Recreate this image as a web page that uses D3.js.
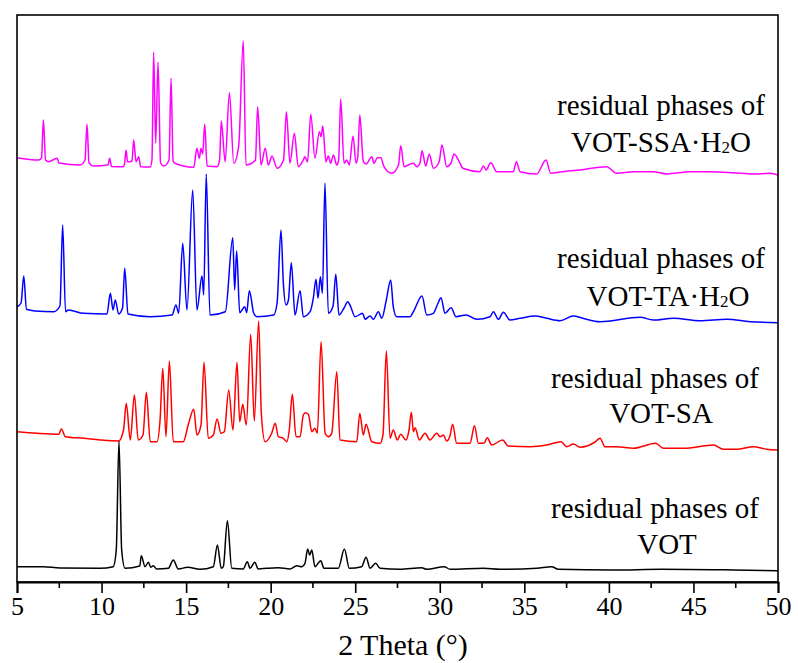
<!DOCTYPE html>
<html>
<head>
<meta charset="utf-8">
<script src="https://cdn.jsdelivr.net/npm/d3@7"></script>
<style>
  body { margin: 0; background: #fff; }
</style>
</head>
<body>
<div id="chart"></div>
<script>
// XRD patterns: [2 theta (deg), intensity (a.u., stacked)]
const vot = [[5.00,15.3],[6.56,15.3],[7.54,14],[9.91,13.7],[10.69,15.3],[10.87,32],[11.03,141],[11.19,32],[11.39,13.7],
  [12.26,16],[12.35,26.3],[12.57,15.3],[12.77,19.7],[12.91,14.7],[13.06,16.3],[13.26,13],[13.95,13.7],[14.24,22],[14.54,13],
  [15.09,14.7],[15.82,12.7],[16.61,15.3],[16.85,37],[17.08,13.7],[17.20,15.3],[17.44,61.3],[17.70,13.7],[18.38,13],
  [18.62,20.3],[18.78,13.7],[19.06,19.7],[19.27,13],[19.77,13.7],[20.45,14.3],[21.14,13],[21.54,16.3],[21.84,15.3],
  [22.03,18.7],[22.19,33],[22.31,27],[22.43,32],[22.62,15.3],[22.96,21.3],[23.15,13.7],[24.00,13.7],[24.36,33],[24.65,13.7],
  [25.38,15.3],[25.64,24.7],[25.88,13.7],[26.21,18.7],[26.47,13.7],[27.65,12.7],[28.93,14.3],[29.23,12.7],[30.27,15.3],
  [30.61,12.7],[32.58,13.7],[33.56,12.7],[35.73,13.7],[36.62,15.3],[37.01,12.7],[40.26,12],[43.12,12.7],[47.36,12],[50.00,11.3]];

const votSA = [[5.00,150.3],[6.18,148.7],[7.47,147.7],[7.62,153],[7.86,145.3],[8.94,143.7],[9.93,142],[11.01,141],[11.30,152],
  [11.46,178.7],[11.70,142],[11.94,187],[12.17,142],[12.45,147],[12.65,189.7],[12.88,140.3],[13.28,140.3],[13.46,162],
  [13.62,213.7],[13.81,145.3],[14.01,221],[14.24,140.3],[14.83,140.3],[15.15,158.7],[15.45,172.7],[15.64,147],[15.88,157],
  [16.06,219.7],[16.31,143.7],[16.61,147],[16.83,163],[17.06,148.7],[17.26,150.3],[17.52,192],[17.77,152],[18.01,219.7],
  [18.17,160.3],[18.35,177.7],[18.56,157],[18.82,247.7],[19.03,161],[19.29,261],[19.45,167.7],[19.67,140.3],[20.06,148.7],
  [20.27,158.7],[20.45,145.3],[20.75,143.7],[20.95,140.3],[21.10,152],[21.28,187.7],[21.50,145.3],[21.74,145.3],[21.93,167],
  [22.05,169.3],[22.23,167.7],[22.43,150.3],[22.62,153.7],[22.76,148.7],[22.98,240.3],[23.22,148.7],[23.41,145.3],
  [23.61,148.7],[23.91,210.3],[24.10,142],[25.09,140.3],[25.27,168.7],[25.48,147],[25.64,157.7],[25.98,140.3],[26.47,138.7],
  [26.64,147],[26.84,231],[27.06,143.7],[27.25,152],[27.49,142],[27.69,147.7],[28.00,142],[28.18,152],[28.32,169.7],
  [28.44,150.3],[28.54,154.3],[28.79,142],[29.13,148.7],[29.42,142],[29.82,148.7],[30.02,145.3],[30.21,147],[30.41,141],
  [30.60,146],[30.76,157.7],[31.00,138.7],[31.79,138.7],[32.05,156.3],[32.28,138.7],[32.62,139],[32.81,144.3],[33.07,137],
  [33.72,142],[34.04,136],[35.34,135.3],[36.32,137],[37.17,140.3],[37.51,135.3],[37.90,138],[38.29,134.7],[39.18,140],
  [39.48,143.7],[39.77,135.3],[40.46,135.3],[41.45,133.7],[42.77,138.7],[43.22,133.7],[44.40,133.7],[46.18,137],
  [46.77,132.7],[47.56,132.7],[48.54,135.3],[49.33,132.7],[50.00,132]];

const votTA = [[5.00,275.3],[5.24,279],[5.40,306],[5.56,272.7],[6.06,271],[7.17,270.3],[7.54,276],[7.70,357],[7.87,270.3],
  [8.03,272],[8.94,268.7],[10.32,268],[10.52,288.7],[10.68,272],[10.81,282],[11.01,268],[11.24,274],[11.37,313.7],[11.56,268],
  [12.87,265.3],[14.17,267],[14.40,277],[14.56,268.7],[14.80,338.7],[15.05,272],[15.39,392],[15.64,272],[15.94,306],
  [16.04,287],[16.19,408],[16.41,267],[17.32,270.3],[17.76,344.3],[17.87,292],[17.99,331],[18.17,269.3],[18.47,275.3],
  [18.58,269.3],[18.74,291.3],[19.00,268.7],[19.19,265.3],[20.18,267],[20.38,279],[20.61,352],[20.75,298.7],[20.91,277],
  [21.05,282],[21.22,319.3],[21.44,267],[21.74,291.3],[21.93,265.3],[22.33,270.3],[22.52,283.7],[22.68,302.7],[22.80,283.7],
  [22.94,305.3],[23.06,288.7],[23.21,398.7],[23.41,268.7],[23.69,276],[23.85,307.7],[24.04,267],[24.34,274],[24.56,280.3],
  [24.73,275.3],[24.99,265.3],[25.44,268.7],[25.58,262.7],[25.88,266],[26.07,262.7],[26.37,270.3],[26.57,263.7],[26.82,280.3],
  [27.10,302],[27.25,275.3],[27.45,265.3],[28.24,265.3],[28.44,270.3],[28.95,286],[29.23,267],[29.62,268.7],[29.90,279],
  [30.07,284.3],[30.31,268.7],[30.67,274.3],[30.96,265.3],[31.55,267],[32.19,262.7],[32.97,265.3],[33.17,270.3],[33.46,262.7],
  [33.76,269.7],[34.15,262],[34.75,263.7],[35.63,266],[36.32,263.7],[37.11,261.3],[37.90,266],[38.45,263.7],[39.48,260.3],
  [41.84,264.7],[42.63,262],[43.81,263.7],[45.39,261.3],[46.97,262.7],[48.35,260.3],[50.00,259.3]];

const votSSA = [[5.00,424.3],[6.28,422],[6.45,424],[6.56,462],[6.69,422],[6.87,420.3],[7.37,423.7],[7.48,419],[8.74,417],
  [9.02,422],[9.14,457.7],[9.26,419],[9.54,416],[10.38,417],[10.48,423.7],[10.59,415.5],[11.27,415.3],[11.36,418],[11.45,432],
  [11.54,420],[11.80,421],[11.90,442],[12.04,420.3],[12.20,425.3],[12.31,415.3],[12.87,415],[12.98,422],[13.08,529.7],
  [13.20,438.7],[13.34,519.7],[13.49,419],[13.68,416],[13.99,422],[14.11,503.7],[14.23,421],[14.34,418.7],[15.45,414.7],
  [15.64,433.7],[15.78,423.7],[15.88,433.7],[15.98,428],[16.10,457.7],[16.24,416],[16.83,415.3],[16.98,422],[17.08,461],
  [17.31,420.3],[17.56,489.3],[17.82,418.7],[18.11,436],[18.38,541.3],[18.54,417],[18.78,418],[19.10,422],[19.23,475.3],
  [19.43,417],[19.68,433.7],[19.86,417],[20.08,426],[20.38,413.7],[20.76,422],[20.93,470.3],[21.14,418.7],[21.40,448.7],
  [21.63,415.3],[21.93,422],[22.03,425.3],[22.18,420],[22.37,467.7],[22.62,423.7],[22.88,450.3],[22.98,445.3],[23.08,456],
  [23.27,420.3],[23.41,426],[23.55,418.7],[23.71,427],[23.91,417],[24.02,422],[24.14,483],[24.34,418.7],[24.50,422],
  [24.65,417],[24.87,446],[25.05,418.7],[25.15,425],[25.27,467],[25.48,420.3],[25.64,418],[25.98,425.3],[26.11,418.7],
  [26.31,424.3],[26.51,424.3],[26.70,415.3],[27.16,408.7],[27.56,417],[27.69,436.3],[27.89,415.3],[28.14,417],[28.44,418.7],
  [28.64,415.3],[28.83,419],[28.95,431.3],[29.17,416],[29.38,428],[29.62,413.7],[29.96,420],[30.13,437],[30.41,415.3],
  [30.67,419],[30.84,428],[31.20,418.7],[31.36,413.7],[32.38,410.3],[32.58,416],[32.74,412],[33.01,419.3],[33.37,410.3],
  [34.35,410.3],[34.53,420.3],[34.75,410.3],[35.73,408],[36.28,422],[36.56,408.7],[37.11,410],[38.29,412],[39.87,415.3],
  [40.46,408.7],[41.45,410.3],[42.63,410.3],[43.42,408],[44.80,410.3],[45.98,410.3],[47.36,409.3],[48.54,408],[49.53,408.7],
  [50.00,407]];

const majorTicks = [5, 10, 15, 20, 25, 30, 35, 40, 45, 50];
const minorTicks = [7.5, 12.5, 17.5, 22.5, 27.5, 32.5, 37.5, 42.5, 47.5];
const seriesColors = ["#000000", "#ff0000", "#0000ff", "#ff00ff"];

const serif = "'Times New Roman', 'Liberation Serif', Times, serif";
const width = 798, height = 663;
const margin = {top: 15, right: 20, bottom: 81, left: 17};

const svg = d3.select("#chart").append("svg")
    .attr("width", width)
    .attr("height", height)
    .attr("font-family", serif);

const x = d3.scaleLinear().domain([5, 50]).range([margin.left, width - margin.right]);
const y = d3.scaleLinear().domain([0, 567]).range([height - margin.bottom, margin.top]);

const line = d3.line()
    .x(d => x(d[0]))
    .y(d => y(d[1]))
    .curve(d3.curveMonotoneX);

// traces
const g = svg.append("g");
[vot, votSA, votTA, votSSA].forEach((s, i) => {
    g.append("path")
        .datum(s)
        .attr("fill", "none")
        .attr("stroke", seriesColors[i])
        .attr("stroke-width", 1.5)
        .attr("stroke-linejoin", "round")
        .attr("d", line);
});

// frame
svg.append("rect")
    .attr("x", x(5)).attr("y", y(567))
    .attr("width", x(50) - x(5)).attr("height", y(0) - y(567))
    .attr("fill", "none").attr("stroke", "#000").attr("stroke-width", 1.6);

// bottom axis
const xAxis = d3.axisBottom(x)
    .tickValues(majorTicks)
    .tickSize(11)
    .tickPadding(4)
    .tickFormat(d3.format("d"));

const ax = svg.append("g")
    .attr("transform", `translate(0,${y(0)})`)
    .call(xAxis);
ax.attr("font-family", serif).attr("font-size", 26);
ax.select(".domain").attr("stroke-width", 2);
ax.selectAll(".tick line").attr("stroke-width", 1.6);
ax.selectAll(".tick text").attr("fill", "#000");

svg.append("g")
    .selectAll("line")
    .data(minorTicks)
    .join("line")
    .attr("x1", d => x(d)).attr("x2", d => x(d))
    .attr("y1", y(0)).attr("y2", y(0) + 6)
    .attr("stroke", "#000").attr("stroke-width", 1.6);

svg.append("text")
    .attr("x", 403).attr("y", 655)
    .attr("text-anchor", "middle")
    .attr("font-size", 30)
    .text("2 Theta (°)");

// sample labels
const labels = [
    {x1: 655, y1: 518, x2: 667, y2: 554, name: ["VOT"]},
    {x1: 655, y1: 388, x2: 661, y2: 423, name: ["VOT-SA"]},
    {x1: 661, y1: 268, x2: 668, y2: 306, name: ["VOT-TA·H", "2", "O"]},
    {x1: 661, y1: 115, x2: 661, y2: 152, name: ["VOT-SSA·H", "2", "O"]}
];

labels.forEach(l => {
    svg.append("text")
        .attr("x", l.x1).attr("y", l.y1)
        .attr("text-anchor", "middle")
        .attr("font-size", 29)
        .text("residual phases of");
    const t = svg.append("text")
        .attr("x", l.x2).attr("y", l.y2)
        .attr("text-anchor", "middle")
        .attr("font-size", 29);
    t.append("tspan").text(l.name[0]);
    if (l.name.length > 1) {
        t.append("tspan").attr("font-size", 17).attr("dy", 1).text(l.name[1]);
        t.append("tspan").attr("dy", -1).text(l.name[2]);
    }
});
</script>
</body>
</html>
